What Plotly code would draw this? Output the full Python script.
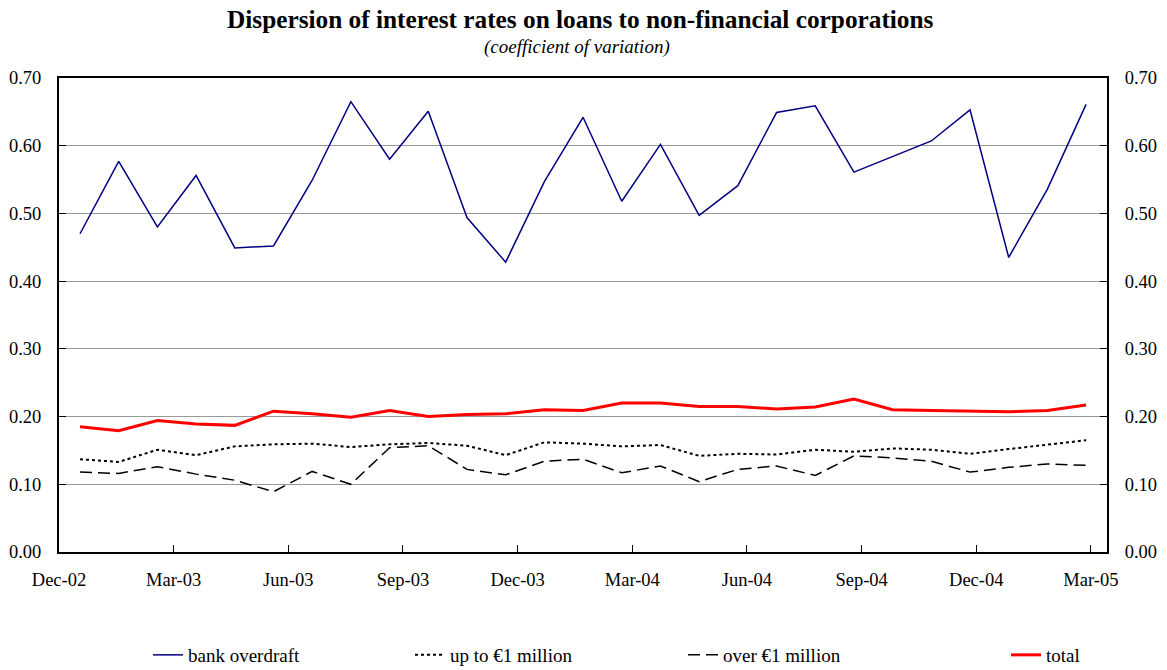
import plotly.graph_objects as go

# Monthly observations, Jan-03 to Mar-05
months = list(range(27))

bank_overdraft = [0.470, 0.577, 0.480, 0.556, 0.449, 0.452, 0.549, 0.665, 0.580, 0.651,
                  0.494, 0.428, 0.547, 0.642, 0.518, 0.602, 0.497, 0.541, 0.649, 0.659,
                  0.561, 0.584, 0.607, 0.653, 0.435, 0.536, 0.661]
up_to_1m = [0.137, 0.133, 0.151, 0.143, 0.156, 0.159, 0.160, 0.155, 0.159, 0.161,
            0.157, 0.143, 0.162, 0.160, 0.156, 0.158, 0.142, 0.145, 0.144, 0.151,
            0.148, 0.153, 0.151, 0.145, 0.152, 0.159, 0.165]
over_1m = [0.118, 0.116, 0.126, 0.115, 0.106, 0.089, 0.119, 0.100, 0.154, 0.157,
           0.122, 0.114, 0.134, 0.137, 0.117, 0.127, 0.104, 0.122, 0.127, 0.113,
           0.142, 0.139, 0.134, 0.118, 0.125, 0.130, 0.128]
total = [0.185, 0.179, 0.194, 0.189, 0.187, 0.208, 0.204, 0.199, 0.209, 0.200,
         0.203, 0.204, 0.210, 0.209, 0.220, 0.220, 0.215, 0.215, 0.211, 0.214,
         0.226, 0.210, 0.209, 0.208, 0.207, 0.209, 0.217]

quarter_labels = ["Dec-02", "Mar-03", "Jun-03", "Sep-03", "Dec-03", "Mar-04",
                  "Jun-04", "Sep-04", "Dec-04", "Mar-05"]
y_ticks = [0.0, 0.1, 0.2, 0.3, 0.4, 0.5, 0.6, 0.7]

FONT = "Liberation Serif, Times New Roman, serif"
x_start, x_end = -0.543, 26.54
q_step = 2.963
quarter_pos = [x_start + q_step * k for k in range(len(quarter_labels))]

fig = go.Figure()

series = [
    ("bank overdraft", bank_overdraft, dict(color="#000080", width=1.5, dash="solid"), "legend"),
    ("up to €1 million", up_to_1m, dict(color="#000000", width=2, dash="dot"), "legend2"),
    ("over €1 million", over_1m, dict(color="#000000", width=1.5, dash="12px,6px"), "legend3"),
    ("total", total, dict(color="#ff0000", width=3, dash="solid"), "legend4"),
]
for name, vals, line, leg in series:
    fig.add_trace(go.Scatter(x=months, y=vals, mode="lines", name=name, line=line,
                             legend=leg, showlegend=True))

# Invisible trace that carries the right-hand axis
fig.add_trace(go.Scatter(x=[months[0]], y=[bank_overdraft[0]], yaxis="y2",
                         mode="lines", line=dict(width=0), showlegend=False,
                         hoverinfo="skip"))

W, H = 1167, 670
ml, mr, mt, mb = 59, 60, 78, 118
plot_w = W - ml - mr
plot_h = H - mt - mb

def px_to_paper_x(px):
    return (px - ml) / plot_w

def px_to_paper_y(py):
    return (H - mb - py) / plot_h

legend_font = dict(family=FONT, size=19, color="#000000")
legend_common = dict(orientation="h", yanchor="middle", xanchor="left",
                     bgcolor="rgba(0,0,0,0)", borderwidth=0, font=legend_font,
                     itemwidth=30, tracegroupgap=0)
legend_x = [148, 410, 683, 1006]
legend_y = 655

yaxis_common = dict(range=[0, 0.7], tickvals=y_ticks,
                    ticktext=[f"{v:.2f}" for v in y_ticks],
                    ticks="inside", ticklen=7, tickwidth=1, tickcolor="#000000",
                    showline=True, linecolor="#000000", linewidth=2,
                    tickfont=dict(family=FONT, size=18.5, color="#000000"),
                    zeroline=False, fixedrange=True)

fig.update_layout(
    width=W, height=H,
    margin=dict(l=ml, r=mr, t=mt, b=mb, pad=0, autoexpand=False),
    paper_bgcolor="#ffffff", plot_bgcolor="#ffffff",
    font=dict(family=FONT, color="#000000"),
    xaxis=dict(range=[x_start, x_end], tickvals=quarter_pos, ticktext=quarter_labels,
               ticks="inside", ticklen=7, tickwidth=1, tickcolor="#000000",
               showline=True, linecolor="#000000", linewidth=2, mirror=True,
               showgrid=False, zeroline=False, ticklabelstandoff=10,
               tickfont=dict(family=FONT, size=18.5, color="#000000")),
    yaxis=dict(**yaxis_common, side="left", showgrid=True, gridcolor="#999999",
               gridwidth=1, ticklabelstandoff=12),
    yaxis2=dict(**yaxis_common, side="right", overlaying="y", showgrid=False,
                ticklabelstandoff=12),
    legend=dict(**legend_common, x=px_to_paper_x(legend_x[0]), y=px_to_paper_y(legend_y)),
    legend2=dict(**legend_common, x=px_to_paper_x(legend_x[1]), y=px_to_paper_y(legend_y)),
    legend3=dict(**legend_common, x=px_to_paper_x(legend_x[2]), y=px_to_paper_y(legend_y)),
    legend4=dict(**legend_common, x=px_to_paper_x(legend_x[3]), y=px_to_paper_y(legend_y)),
    annotations=[
        dict(text="<b>Dispersion of interest rates on loans to non-financial corporations</b>",
             xref="paper", yref="paper", x=px_to_paper_x(580), y=px_to_paper_y(19),
             xanchor="center", yanchor="middle", showarrow=False,
             font=dict(family=FONT, size=25.3, color="#000000")),
        dict(text="<i>(coefficient of variation)</i>",
             xref="paper", yref="paper", x=px_to_paper_x(577), y=px_to_paper_y(47),
             xanchor="center", yanchor="middle", showarrow=False,
             font=dict(family=FONT, size=19, color="#000000")),
    ],
    showlegend=True,
)

fig.write_html("out.html")
